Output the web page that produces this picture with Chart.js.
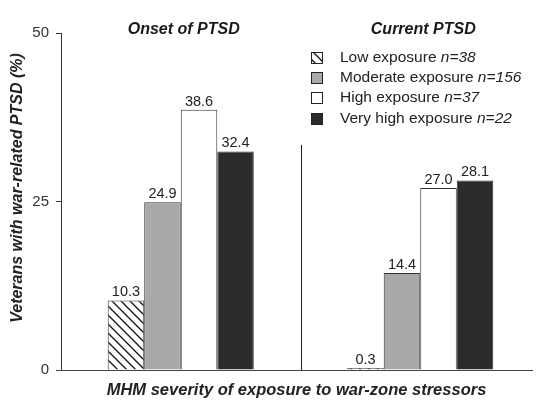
<!DOCTYPE html>
<html>
<head>
<meta charset="utf-8">
<script src="https://cdn.jsdelivr.net/npm/chart.js@4/dist/chart.umd.min.js"></script>
<style>
  html, body { margin: 0; padding: 0; background: #fff; }
  canvas { display: block; }
</style>
</head>
<body>
<canvas id="ptsd-chart" width="540" height="409"></canvas>
<script>
// data
const categories = ["Onset of PTSD", "Current PTSD"];
const exposureLevels = ["Low exposure", "Moderate exposure", "High exposure", "Very high exposure"];
const sampleSizes = ["n=38", "n=156", "n=37", "n=22"];
const lowValues = [10.3, 0.3];
const moderateValues = [24.9, 14.4];
const highValues = [38.6, 27.0];
const veryHighValues = [32.4, 28.1];
const yTicks = [0, 25, 50];
const dividerTop = 33.4;

const FONT = "'Liberation Sans', Arial, sans-serif";

function makeHatch() {
  const c = document.createElement("canvas");
  c.width = 9;
  c.height = 9;
  const ctx = c.getContext("2d");
  ctx.fillStyle = "#fff";
  ctx.fillRect(0, 0, 9, 9);
  ctx.strokeStyle = "#111";
  ctx.lineWidth = 1.3;
  ctx.beginPath();
  ctx.moveTo(-1, -1);
  ctx.lineTo(10, 10);
  ctx.moveTo(-1, 8);
  ctx.lineTo(1, 10);
  ctx.moveTo(8, -1);
  ctx.lineTo(10, 1);
  ctx.stroke();
  return c.getContext("2d").createPattern(c, "repeat");
}

const hatch = makeHatch();
const fills = [hatch, "#a9a9a9", "#ffffff", "#2b2b2b"];

const extras = {
  id: "extras",
  afterDraw(chart) {
    const ctx = chart.ctx;
    const xs = chart.scales.x;
    const ys = chart.scales.y;
    const area = chart.chartArea;
    ctx.save();

    // x axis line
    ctx.strokeStyle = "#444";
    ctx.lineWidth = 1;
    ctx.beginPath();
    ctx.moveTo(area.left - 4, ys.getPixelForValue(0) + 0.5);
    ctx.lineTo(533, ys.getPixelForValue(0) + 0.5);
    ctx.stroke();

    // divider between the two groups
    const midX = Math.round((xs.getPixelForValue(0) + xs.getPixelForValue(1)) / 2) + 0.5;
    ctx.strokeStyle = "#222";
    ctx.beginPath();
    ctx.moveTo(midX, ys.getPixelForValue(dividerTop));
    ctx.lineTo(midX, ys.getPixelForValue(0));
    ctx.stroke();

    // group titles
    ctx.fillStyle = "#1a1a1a";
    ctx.font = "italic bold 16px " + FONT;
    ctx.textAlign = "center";
    ctx.textBaseline = "middle";
    categories.forEach((c, i) => {
      ctx.fillText(c, xs.getPixelForValue(i) + 3, 30);
    });

    // value labels
    ctx.font = "14.5px " + FONT;
    ctx.fillStyle = "#222";
    ctx.textBaseline = "bottom";
    chart.data.datasets.forEach((ds, di) => {
      chart.getDatasetMeta(di).data.forEach((bar, i) => {
        ctx.fillText(ds.data[i].toFixed(1), bar.x, bar.y - 1);
      });
    });

    // axis titles
    ctx.font = "italic bold 16.5px " + FONT;
    ctx.textBaseline = "middle";
    ctx.fillText("MHM severity of exposure to war-zone stressors", (area.left + area.right) / 2 - 4, 390);
    ctx.save();
    ctx.translate(18, 188);
    ctx.rotate(-Math.PI / 2);
    ctx.font = "italic bold 16px " + FONT;
    ctx.fillText("Veterans with war-related PTSD (%)", 0, 0);
    ctx.restore();

    // legend
    ctx.textAlign = "left";
    ctx.textBaseline = "middle";
    const rowY = [58, 78, 98, 119];
    exposureLevels.forEach((lab, i) => {
      const y = rowY[i];
      ctx.fillStyle = fills[i];
      ctx.fillRect(311, y - 6, 12, 12);
      ctx.strokeStyle = "#222";
      ctx.lineWidth = 1;
      ctx.strokeRect(311.5, y - 5.5, 11, 11);
      ctx.fillStyle = "#222";
      ctx.font = "15.5px " + FONT;
      const txt = lab + " ";
      ctx.fillText(txt, 340, y);
      const w = ctx.measureText(txt).width;
      ctx.font = "italic 15.5px " + FONT;
      ctx.fillText(sampleSizes[i], 340 + w, y);
    });

    ctx.restore();
  }
};

const datasets = [lowValues, moderateValues, highValues, veryHighValues].map((vals, i) => ({
  label: exposureLevels[i] + " " + sampleSizes[i],
  data: vals,
  backgroundColor: fills[i],
  borderColor: "#333",
  borderWidth: 1,
  categoryPercentage: 0.61,
  barPercentage: 1
}));

new Chart(document.getElementById("ptsd-chart"), {
  type: "bar",
  data: { labels: categories, datasets: datasets },
  options: {
    responsive: false,
    devicePixelRatio: 1,
    animation: false,
    layout: { padding: { top: 33, bottom: 39, left: 0, right: 0 } },
    plugins: {
      legend: { display: false },
      tooltip: { enabled: false }
    },
    scales: {
      x: { display: false },
      y: {
        min: 0,
        max: 50,
        afterFit(scale) { scale.width = 61; },
        afterBuildTicks(scale) { scale.ticks = yTicks.map(v => ({ value: v })); },
        border: { display: true, color: "#333", width: 1 },
        grid: { drawOnChartArea: false, drawTicks: true, tickLength: 5, color: "#333" },
        ticks: {
          color: "#333",
          padding: 7,
          font: { family: FONT, size: 15 }
        }
      }
    }
  },
  plugins: [extras]
});
</script>
</body>
</html>
